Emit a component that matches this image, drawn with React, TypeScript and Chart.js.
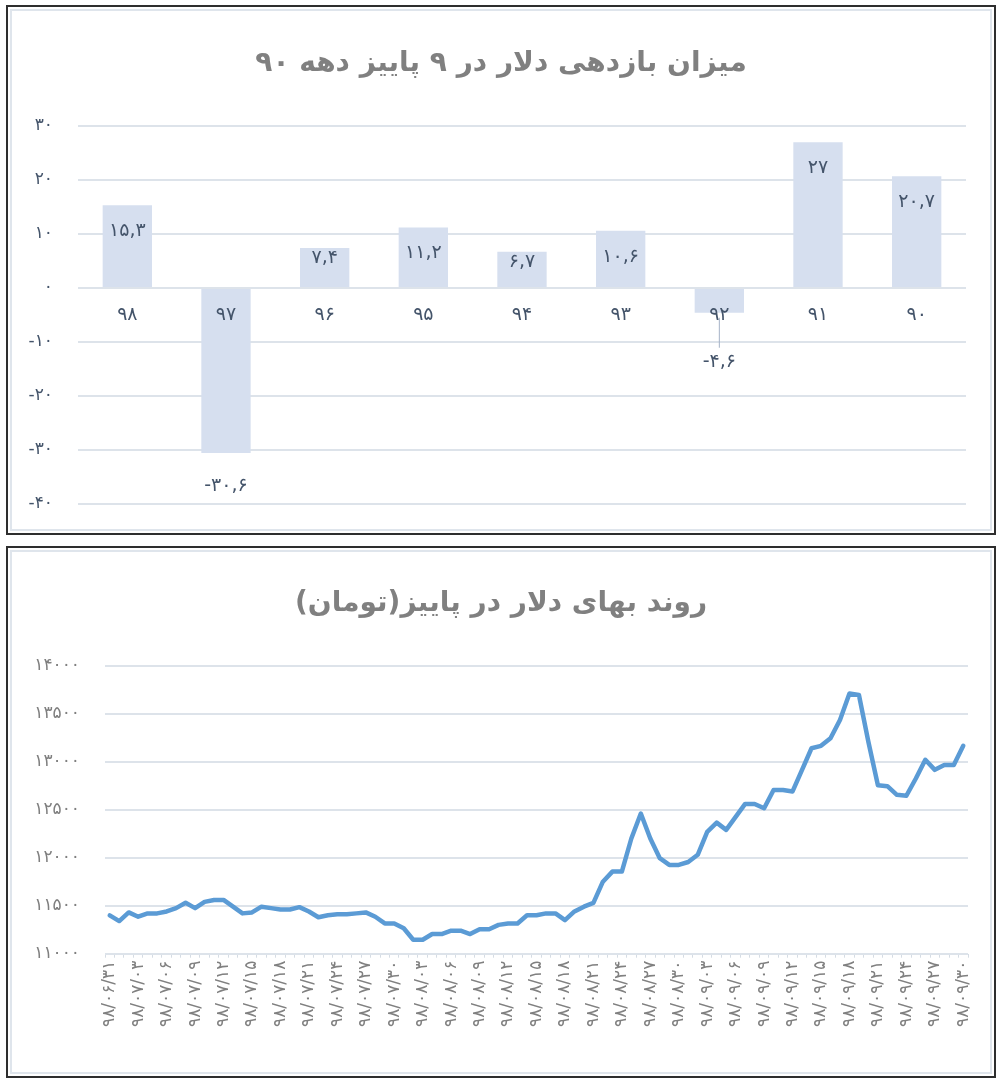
import React, { useEffect, useRef } from 'react';
import { Chart, registerables } from 'chart.js';

Chart.register(...registerables);

const FONT = "'DejaVu Sans', sans-serif";

// ارقام فارسی
const faDigits = ['۰', '۱', '۲', '۳', '۴', '۵', '۶', '۷', '۸', '۹'];
const toFa = (s: string | number) => String(s).replace(/[0-9]/g, (d) => faDigits[Number(d)]);

// نمودار بالا: بازدهی دلار
const returnTitle = 'میزان بازدهی دلار در ۹ پاییز دهه ۹۰';
const years = ['98', '97', '96', '95', '94', '93', '92', '91', '90'];
const returns = [15.3, -30.6, 7.4, 11.2, 6.7, 10.6, -4.6, 27, 20.7];

// نمودار پایین: بهای دلار
const priceTitle = 'روند بهای دلار در پاییز(تومان)';
const dates = [
  '98/06/31',
  '98/07/01', '98/07/02', '98/07/03', '98/07/04', '98/07/05', '98/07/06', '98/07/07', '98/07/08', '98/07/09', '98/07/10',
  '98/07/11', '98/07/12', '98/07/13', '98/07/14', '98/07/15', '98/07/16', '98/07/17', '98/07/18', '98/07/19', '98/07/20',
  '98/07/21', '98/07/22', '98/07/23', '98/07/24', '98/07/25', '98/07/26', '98/07/27', '98/07/28', '98/07/29', '98/07/30',
  '98/08/01', '98/08/02', '98/08/03', '98/08/04', '98/08/05', '98/08/06', '98/08/07', '98/08/08', '98/08/09', '98/08/10',
  '98/08/11', '98/08/12', '98/08/13', '98/08/14', '98/08/15', '98/08/16', '98/08/17', '98/08/18', '98/08/19', '98/08/20',
  '98/08/21', '98/08/22', '98/08/23', '98/08/24', '98/08/25', '98/08/26', '98/08/27', '98/08/28', '98/08/29', '98/08/30',
  '98/09/01', '98/09/02', '98/09/03', '98/09/04', '98/09/05', '98/09/06', '98/09/07', '98/09/08', '98/09/09', '98/09/10',
  '98/09/11', '98/09/12', '98/09/13', '98/09/14', '98/09/15', '98/09/16', '98/09/17', '98/09/18', '98/09/19', '98/09/20',
  '98/09/21', '98/09/22', '98/09/23', '98/09/24', '98/09/25', '98/09/26', '98/09/27', '98/09/28', '98/09/29', '98/09/30',
];
const prices = [
  11400,
  11340, 11430, 11385, 11420, 11420, 11440, 11475, 11530, 11475, 11540,
  11560, 11560, 11490, 11420, 11430, 11490, 11475, 11460, 11460, 11485,
  11440, 11380, 11400, 11410, 11410, 11420, 11430, 11385, 11315, 11315,
  11265, 11145, 11145, 11205, 11205, 11240, 11240, 11205, 11255, 11255,
  11300, 11315, 11315, 11400, 11400, 11420, 11420, 11350, 11440, 11490,
  11530, 11750, 11855, 11855, 12200, 12460, 12200, 11995, 11925, 11925,
  11955, 12030, 12270, 12365, 12290, 12425, 12560, 12560, 12515, 12705,
  12705, 12690, 12915, 13140, 13165, 13245, 13435, 13710, 13695, 13205,
  12755, 12745, 12655, 12645, 12825, 13020, 12915, 12965, 12965, 13165,
];

// عنوان وسط‌چین و راست‌به‌چپ روی کل عرض بوم
const centerTitle = (text: string, y: number) => ({
  id: 'centerTitle',
  afterDraw(chart: Chart) {
    const ctx = chart.ctx;
    ctx.save();
    ctx.font = `bold 28px ${FONT}`;
    ctx.fillStyle = '#808080';
    ctx.textAlign = 'center';
    ctx.textBaseline = 'middle';
    ctx.direction = 'rtl';
    ctx.fillText(text, chart.width / 2, y);
    ctx.restore();
  },
});

// برچسب مقدار روی ستون‌ها
const barLabels = {
  id: 'barLabels',
  afterDatasetsDraw(chart: Chart) {
    const ctx = chart.ctx;
    const meta = chart.getDatasetMeta(0);
    ctx.save();
    ctx.font = `19px ${FONT}`;
    ctx.fillStyle = '#44546a';
    ctx.textAlign = 'center';
    ctx.textBaseline = 'middle';
    meta.data.forEach((bar: any, i: number) => {
      const v = returns[i];
      const { x, y, base } = bar.getProps(['x', 'y', 'base'], true);
      const h = Math.abs(base - y);
      const text = toFa(String(v).replace('.', ','));
      let ly;
      if (v >= 0) {
        ly = y + (h > 50 ? 26 : 10);
      } else if (h > 60) {
        ly = y + 33;
      } else {
        ly = y + 49;
        ctx.strokeStyle = '#a5b3c7';
        ctx.lineWidth = 1;
        ctx.beginPath();
        ctx.moveTo(x, y + 5);
        ctx.lineTo(x, ly - 14);
        ctx.stroke();
      }
      ctx.fillText(text, x, ly);
    });
    ctx.restore();
  },
};

const ReturnChart = () => {
  const canvasRef = useRef<HTMLCanvasElement | null>(null);

  useEffect(() => {
    if (!canvasRef.current) return;
    const chart = new Chart(canvasRef.current, {
      type: 'bar',
      data: {
        labels: years.map(toFa),
        datasets: [{
          data: returns,
          backgroundColor: '#d6dfef',
          barPercentage: 0.5,
          categoryPercentage: 1,
        }],
      },
      options: {
        animation: false,
        responsive: true,
        maintainAspectRatio: false,
        layout: { padding: { left: 0, right: 24, top: 115, bottom: 0 } },
        plugins: {
          legend: { display: false },
          tooltip: { enabled: false },
        },
        scales: {
          x: {
            position: { y: 0 } as any,
            grid: { display: false, drawTicks: false },
            border: { display: false },
            ticks: { z: 1, padding: 16, color: '#44546a', font: { family: FONT, size: 19 } },
            afterFit: (s: any) => { s.height = 0; },
          },
          y: {
            min: -40,
            max: 30,
            ticks: {
              stepSize: 10,
              padding: 25,
              color: '#44546a',
              font: { family: FONT, size: 17 },
              callback: (v: any) => toFa(v),
            },
            grid: { color: '#dde3ea', lineWidth: 2, drawTicks: false },
            border: { display: false },
            afterFit: (s: any) => { s.width = 66; },
          },
        },
      },
      plugins: [barLabels, centerTitle(returnTitle, 53)],
    });
    return () => chart.destroy();
  }, []);

  return (
    <div style={{ position: 'relative', width: 978, height: 528 }}>
      <canvas ref={canvasRef}></canvas>
    </div>
  );
};

const PriceChart = () => {
  const canvasRef = useRef<HTMLCanvasElement | null>(null);

  useEffect(() => {
    if (!canvasRef.current) return;
    const chart = new Chart(canvasRef.current, {
      type: 'line',
      data: {
        labels: dates,
        datasets: [{
          data: prices,
          borderColor: '#5b9bd5',
          borderWidth: 4.5,
          pointRadius: 0,
          tension: 0,
          fill: false,
          borderJoinStyle: 'round',
          borderCapStyle: 'round',
        }],
      },
      options: {
        animation: false,
        responsive: true,
        maintainAspectRatio: false,
        layout: { padding: { left: 0, right: 22, top: 113.7, bottom: 0 } },
        plugins: {
          legend: { display: false },
          tooltip: { enabled: false },
        },
        scales: {
          x: {
            offset: true,
            grid: { offset: true, drawOnChartArea: false, color: '#d5dce4', tickLength: 4 },
            border: { display: false },
            ticks: {
              autoSkip: false,
              minRotation: 90,
              maxRotation: 90,
              padding: 3,
              color: '#808080',
              font: { family: FONT, size: 17 },
              callback: (_v: any, i: number) => (i % 3 === 0 ? toFa(dates[i]) : ''),
            },
            afterFit: (s: any) => { s.height = 118.3; },
          },
          y: {
            min: 11000,
            max: 14000,
            ticks: {
              stepSize: 500,
              padding: 25,
              color: '#7f7f7f',
              font: { family: FONT, size: 17 },
              callback: (v: any) => toFa(v),
            },
            grid: { color: '#dde3ea', lineWidth: 2, drawTicks: false },
            border: { display: false },
            afterFit: (s: any) => { s.width = 93; },
          },
        },
      },
      plugins: [centerTitle(priceTitle, 52)],
    });
    return () => chart.destroy();
  }, []);

  return (
    <div style={{ position: 'relative', width: 978, height: 520 }}>
      <canvas ref={canvasRef}></canvas>
    </div>
  );
};

const Panel = ({ top, height, children }: { top: number; height: number; children: React.ReactNode }) => (
  <div style={{
    position: 'absolute', left: 6, top, width: 990, height, boxSizing: 'border-box',
    border: '2px solid #2e2e2e', padding: 2, background: '#fff',
  }}>
    <div style={{ width: '100%', height: '100%', boxSizing: 'border-box', border: '2px solid #dfe5ec' }}>
      {children}
    </div>
  </div>
);

export default function App() {
  return (
    <div style={{ position: 'absolute', left: 0, top: 0, width: 1002, height: 1083, background: '#fff' }}>
      <Panel top={5} height={530}>
        <ReturnChart />
      </Panel>
      <Panel top={546} height={532}>
        <PriceChart />
      </Panel>
    </div>
  );
}
